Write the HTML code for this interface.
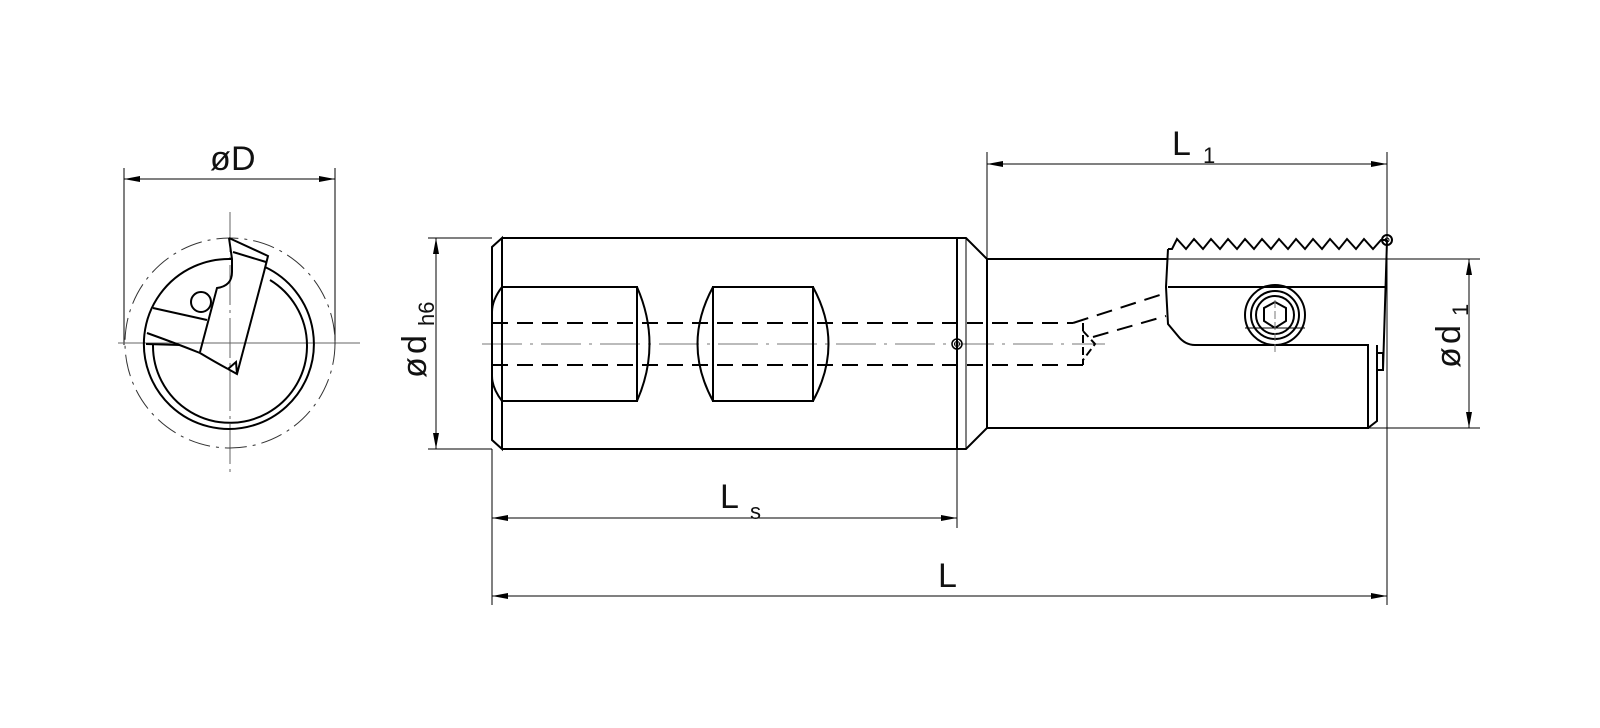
<!DOCTYPE html>
<html><head><meta charset="utf-8"><style>
html,body{margin:0;padding:0;background:#fff;}
svg{display:block;}
text{font-family:"Liberation Sans",sans-serif;fill:#111;}
</style></head><body>
<svg width="1600" height="728" viewBox="0 0 1600 728" xmlns="http://www.w3.org/2000/svg">
<defs>
<marker id="a" viewBox="0 0 16 6" refX="16" refY="3" markerWidth="16" markerHeight="6" orient="auto-start-reverse" markerUnits="userSpaceOnUse"><path d="M0,0 L16,3 L0,6 Z" fill="#000"/></marker>
</defs>
<g fill="none" stroke="#000">
<!-- LEFT END VIEW -->
<g stroke-width="1">
<line x1="124" y1="168" x2="124" y2="345"/>
<line x1="335" y1="168" x2="335" y2="345"/>
<line x1="124" y1="179" x2="335" y2="179" marker-start="url(#a)" marker-end="url(#a)"/>
<line x1="118" y1="343" x2="360" y2="343" stroke="#666"/>
<line x1="230" y1="212" x2="230" y2="475" stroke="#666" stroke-dasharray="40 5 3 5"/>
<circle cx="230" cy="343" r="105" stroke="#333" stroke-dasharray="22 6 3 6"/>
</g>
<g stroke-width="2">
<path d="M232,259 A85,85 0 1 0 265,267"/>
<path d="M153,345 A77,77 0 1 0 270,280"/>
<path d="M229,238 L268,256 L264,272 L237,374 L228,369"/>
<path d="M229,238 L232,259 L232,272 Q232,286 217,288 L200,352"/>
<line x1="233" y1="252" x2="266" y2="262"/>
<line x1="153" y1="308" x2="207" y2="320"/>
<circle cx="201" cy="302" r="10"/>
<path d="M147,333 Q175,343 200,353 Q215,362 228,369"/>
<path d="M146,344 L180,345"/>
<path d="M228,369 L236,362 L237,374"/>
</g>
<!-- SHANK -->
<g stroke-width="1">
<line x1="428" y1="238" x2="492" y2="238"/>
<line x1="428" y1="449" x2="492" y2="449"/>
<line x1="436" y1="238" x2="436" y2="449" marker-start="url(#a)" marker-end="url(#a)"/>
<line x1="492" y1="449" x2="492" y2="605"/>
<line x1="957" y1="345" x2="957" y2="528"/>
<line x1="492" y1="518" x2="957" y2="518" marker-start="url(#a)" marker-end="url(#a)"/>
<line x1="492" y1="596" x2="1387" y2="596" marker-start="url(#a)" marker-end="url(#a)"/>
<line x1="987" y1="152" x2="987" y2="259"/>
<line x1="1387" y1="152" x2="1387" y2="605"/>
<line x1="987" y1="164" x2="1387" y2="164" marker-start="url(#a)" marker-end="url(#a)"/>
<line x1="1387" y1="259" x2="1480" y2="259"/>
<line x1="1368" y1="428" x2="1480" y2="428"/>
<line x1="1469" y1="259" x2="1469" y2="428" marker-start="url(#a)" marker-end="url(#a)"/>
<line x1="482" y1="344" x2="1105" y2="344" stroke="#777" stroke-dasharray="40 8 3 8"/>
</g>
<g stroke-width="2">
<path d="M502,238 L957,238 M502,449 L957,449"/>
<path d="M502,238 L492,247 L492,440 L502,449 Z"/>
<line x1="502" y1="238" x2="502" y2="449"/>
<path d="M502,287 L637,287 L637,401 L502,401 M502,287 Q492,300 492,312 M502,401 Q492,388 492,376"/>
<path d="M637,287 Q662,344 637,401"/>
<path d="M713,287 L813,287 L813,401 L713,401 Z"/>
<path d="M713,287 Q682,344 713,401 M813,287 Q844,344 813,401"/>
<line x1="957" y1="238" x2="957" y2="449"/>
<path d="M957,238 L966,238 L987,259 L987,428 L966,449 L957,449"/>
<line x1="966" y1="238" x2="966" y2="449" stroke-width="1"/>
<path d="M987,259 L1168,259 M987,428 L1368,428 L1368,345 L1195,345 Q1185,345 1178,336 L1168,324 L1166,287 L1168,249"/>
<path d="M1168,287 L1385,287"/>
<path d="M1368,428 L1377,421 L1377,345"/>
<path d="M1378,353 L1383,353 L1383,370 L1378,370"/>
<path d="M1387,240 L1383,370"/>
</g>
<line x1="1168" y1="259" x2="1387" y2="259" stroke-width="1"/>
<polyline stroke-width="2" points="1168,249 1172,249 1177,239 1186,249 1194,239 1203,249 1211,239 1220,249 1228,239 1237,249 1245,239 1254,249 1262,239 1271,249 1279,239 1288,249 1296,239 1305,249 1313,239 1322,249 1330,239 1339,249 1347,239 1356,249 1364,239 1373,249 1381,240 1387,240"/>
<circle cx="1387" cy="240" r="5" stroke-width="2"/>
<circle cx="1387" cy="240" r="2" stroke-width="1"/>
<circle cx="957" cy="344" r="5" stroke-width="1.5"/>
<circle cx="957" cy="344" r="2.5" stroke-width="1"/>
<!-- hidden -->
<g stroke-width="2" stroke-dasharray="16 9">
<line x1="492" y1="323" x2="1073" y2="323"/>
<line x1="492" y1="365" x2="1083" y2="365"/>
<line x1="1073" y1="323" x2="1166" y2="293"/>
<line x1="1093" y1="337" x2="1166" y2="316"/>
<path d="M1083,323 L1083,365 M1083,331 L1095,344 L1083,360" stroke-dasharray="8 4"/>
</g>
<!-- screw -->
<g stroke-width="2">
<circle cx="1275" cy="315" r="30"/>
<circle cx="1275" cy="315" r="24"/>
<circle cx="1275" cy="315" r="19"/>
<polygon points="1275,302 1286,308 1286,321 1275,328 1264,321 1264,308"/>
</g>
<line x1="1245" y1="328" x2="1305" y2="328" stroke-width="1"/>
<line x1="1275" y1="300" x2="1275" y2="352" stroke="#777" stroke-width="1" stroke-dasharray="8 3"/>
</g>
<g font-size="34">
<text x="210" y="170">ø</text><text x="231" y="170">D</text>
<text x="720" y="508">L</text><text x="750" y="519" font-size="22">s</text>
<text x="938" y="587">L</text>
<text x="1172" y="155">L</text><text x="1203" y="163" font-size="22">1</text>
<g transform="translate(426,378) rotate(-90)"><text x="0" y="0">ø</text><text x="24" y="0">d</text><text x="52" y="8" font-size="22">h6</text></g>
<g transform="translate(1460,368) rotate(-90)"><text x="0" y="0">ø</text><text x="24" y="0">d</text><text x="52" y="8" font-size="22">1</text></g>
</g>
</svg>
</body></html>
